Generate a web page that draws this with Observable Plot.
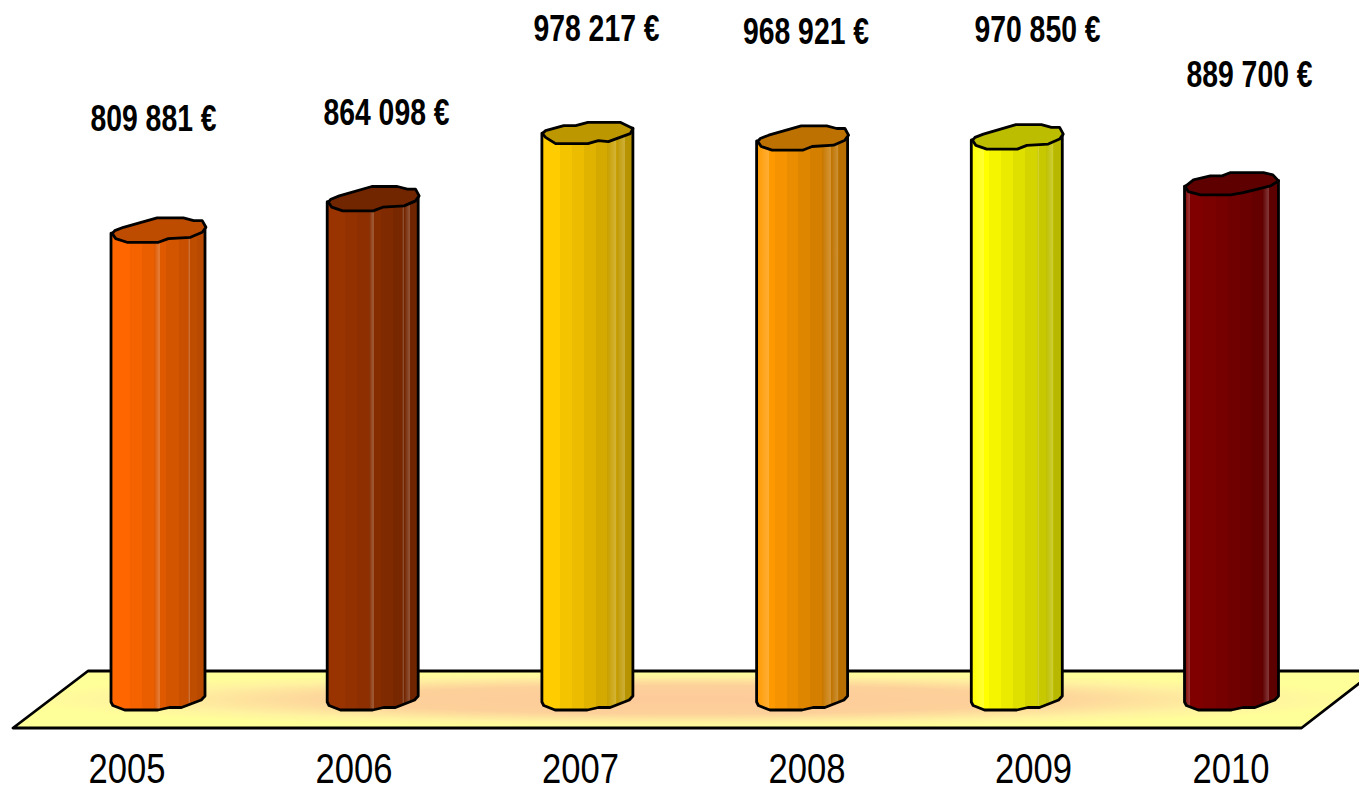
<!DOCTYPE html>
<html><head><meta charset="utf-8">
<style>html,body{margin:0;padding:0;background:#fff;overflow:hidden}svg{display:block}</style>
<script src="https://cdn.jsdelivr.net/npm/d3@7"></script>
<script src="https://cdn.jsdelivr.net/npm/@observablehq/plot@0.6"></script>
</head><body><div id="chart"></div>
<script>
// ---- data ----
const years = [2005, 2006, 2007, 2008, 2009, 2010];
const amounts = [809881, 864098, 978217, 968921, 970850, 889700];
const barColors = ["#ff6600", "#993300", "#ffcc00", "#ff9900", "#ffff00", "#800000"];

// ---- layout ----
const W = 1359, H = 788;
const X0 = 158, PXX = 214.7;            // pixels: centre of first bar, spacing per year
const Y0 = 698.5, PXY = 0.000579;       // pixels: level of value 0, pixels per euro
const ux = (px) => px / PXX;            // pixel length -> years
const uy = (px) => px / PXY;            // pixel length -> euros
const halfW = [47, 45.5, 45.5, 45.5, 45.5, 47];
const labelShift = [[-5, -110.6], [13.3, -85], [8.6, -103], [3.4, -105.5], [20.2, -106.4], [17.5, -108.4]];
const yearShift = [-31.5, -19.2, -7.4, 4.4, 16.2, -1];
const sheen = [[.51, .83], [.5, .84, .9], [.81, .9], [.13, .81, .89], [.13, .74, .89], [.05, .82, .89]];

// shape of the irregular top of each cylinder: [fraction of half width, px above the level]
const capA = [[-.985,-3.5],[-.93,-.5],[-.745,2.8],[-.03,12.2],[.53,12.2],[.75,9.5],[.93,9.5],[1.01,2.8],[.93,-2.2],[.68,-7.2],[.21,-8.5],[0,-12.2],[-.67,-12.2],[-.91,-8.5]];
const capB = [[-1,-1],[-.93,2],[-.53,7],[-.27,7],[0,10.3],[.71,10.3],[.99,4],[.93,-1],[.45,-9],[.23,-8],[0,-11],[-.71,-11],[-.93,-4.7]];
const capC = [[-1,-2.7],[-.82,4],[-.46,8],[-.21,8],[-.03,11.3],[.67,11.3],[.87,9],[.99,3],[.82,-2],[.24,-8.7],[-.03,-11],[-.67,-11],[-.93,-7.7]];
const caps = [capA, capA, capB, capA, capA, capC];
// wavy foot of the cylinders: [fraction of half width, px below level 0]
const foot = [[-1,-3.5],[-.96,-7],[-.71,-11.5],[0,-11.5],[.24,-9],[.5,-9],[.92,-1.5],[1,2.5]];

const stepEdges = [0,.2,.33,.46,.59,.72,.82,.91,1];
const stepShade = [1,.96,.92,.875,.83,.785,.75,.72];
const capShade = .74;
const shade = (c, f) => { const r = d3.rgb(c); return d3.rgb(r.r*f, r.g*f, r.b*f).formatHex(); };
const tint = (c, f) => d3.interpolateRgb(c, "#fff")(f);

function defs() {
  const d = d3.create("svg:defs");
  barColors.forEach((c, i) => {
    const g = d.append("linearGradient").attr("id", "bar"+i);
    const stops = [];
    stepShade.forEach((f, k) => {
      const col = shade(c, f);
      stops.push([stepEdges[k], col], [stepEdges[k+1], col]);
    });
    let all = stops;
    sheen[i].forEach((s) => {
      const col = all.filter((p) => p[0] <= s).pop()[1];
      all = all.filter((p) => p[0] <= s).concat([[s, tint(col, .2)], [s+.009, tint(col, .2)], [s+.009, col]], all.filter((p) => p[0] > s));
    });
    all.forEach(([o, col]) => g.append("stop").attr("offset", o).attr("stop-color", col));
  });
  const f = d.append("radialGradient").attr("id", "floor").attr("cx", .5).attr("cy", .5).attr("r", .5);
  [[0,"#fdca9a"],[.5,"#fdd19a"],[.8,"#fff2a0"],[1,"#ffff99"]].forEach(([o,c]) => f.append("stop").attr("offset", o).attr("stop-color", c));
  return d.node();
}

const floorData = [
  {y: -uy(29.5), x1: 2005 + ux(13 - X0),  x2: 2005 + ux(1301.5 - X0)},
  {y:  uy(27.5), x1: 2005 + ux(88 - X0),  x2: 2005 + ux(1375 - X0)}
];

const fmt = d3.formatLocale({thousands: " ", grouping: [3], decimal: ",", currency: ["", " €"]}).format(",");
const sans = "'Liberation Sans',Arial,sans-serif";

const marks = [
  defs,
  Plot.areaX(floorData, {y: "y", x1: "x1", x2: "x2", fill: "url(#floor)", stroke: "#000", strokeWidth: 2.8})
];

years.forEach((yr, i) => {
  const cap = caps[i];
  const leftUp = d3.least(cap, (p) => p[0])[1];
  const rightUp = d3.greatest(cap, (p) => p[0])[1];
  const side = foot.map(([fx, down]) => ({
    x: yr + ux(fx * halfW[i]),
    y1: uy(down),
    y2: amounts[i] + uy(leftUp + (fx + 1) / 2 * (rightUp - leftUp))
  }));
  marks.push(Plot.areaY(side, {x: "x", y1: "y1", y2: "y2", fill: `url(#bar${i})`, stroke: "#000", strokeWidth: 2.8, strokeLinejoin: "round"}));
  const top = cap.map(([fx, up]) => ({x: yr + ux(fx * halfW[i]), y: amounts[i] + uy(up)}));
  marks.push(Plot.line(top, {x: "x", y: "y", curve: "linear-closed", fill: shade(barColors[i], capShade), stroke: "#000", strokeWidth: 2.8, strokeLinejoin: "round"}));
  marks.push(Plot.text([amounts[i]], {
    x: () => yr, y: (d) => d, text: (d) => `${fmt(d)} €`,
    dx: labelShift[i][0], dy: labelShift[i][1], className: "amount",
    fontFamily: sans, fontWeight: "bold", fontSize: 36, fill: "#000", lineAnchor: "middle"
  }));
  marks.push(Plot.text([yr], {
    x: (d) => d, y: () => 0, text: (d) => String(d),
    dx: yearShift[i], dy: 70.5, className: "year",
    fontFamily: sans, fontSize: 43, fill: "#000", lineAnchor: "middle"
  }));
});

const chart = Plot.plot({
  width: W, height: H,
  marginTop: 0, marginRight: 0, marginBottom: H - Y0, marginLeft: 0,
  style: {background: "#fff"},
  x: {type: "linear", axis: null, domain: [2005 + ux(0 - X0), 2005 + ux(W - X0)]},
  y: {type: "linear", axis: null, domain: [0, uy(Y0)]},
  marks
});
// the original face is condensed: fit the real text to its measured width
d3.select(chart).selectAll(".amount text").attr("textLength", 126).attr("lengthAdjust", "spacingAndGlyphs");
d3.select(chart).selectAll(".year text").attr("textLength", 77).attr("lengthAdjust", "spacingAndGlyphs");
document.getElementById("chart").append(chart);
</script>
</body></html>
